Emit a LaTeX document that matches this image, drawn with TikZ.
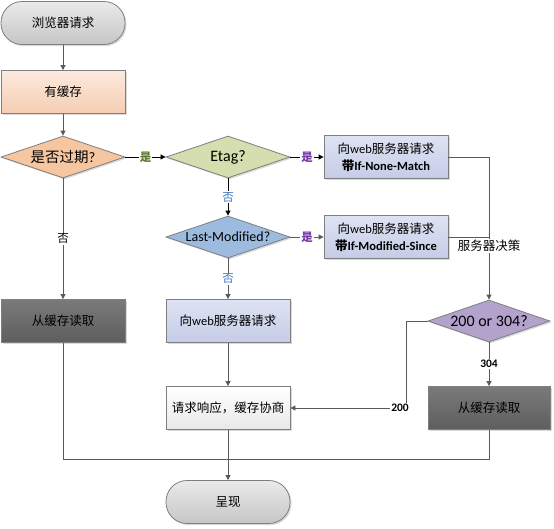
\documentclass[tikz,border=0pt]{standalone}
\usepackage{fontspec}
\setmainfont{Noto Sans CJK SC}
\newfontfamily\lat{Carlito}
\usetikzlibrary{shapes.geometric,arrows.meta,shadows}
\definecolor{linec}{HTML}{5A5A5A}
\definecolor{bordc}{HTML}{7F7F7F}
\definecolor{termtop}{HTML}{EAEAEA}
\definecolor{termbot}{HTML}{C6C6C6}
\definecolor{peachtop}{HTML}{FCEADF}
\definecolor{peachbot}{HTML}{F5CDB1}
\definecolor{orangeD}{HTML}{F6C6A0}
\definecolor{greenD}{HTML}{D4DEAE}
\definecolor{lavtop}{HTML}{DEE3F3}
\definecolor{lavbot}{HTML}{C5CCE6}
\definecolor{blueD}{HTML}{9CBBDF}
\definecolor{purpleD}{HTML}{B3A2CB}
\definecolor{darktop}{HTML}{7A7A7A}
\definecolor{darkbot}{HTML}{5E5E5E}
\definecolor{oliveL}{HTML}{5E7A2E}
\definecolor{blueL}{HTML}{3B78C0}
\definecolor{purpleL}{HTML}{7B3AA8}
\begin{document}
\begin{tikzpicture}[x=1pt,y=-1pt,
  base/.style={draw=bordc, line width=0.8pt, minimum width=124pt, minimum height=43pt,
    inner sep=0pt, align=center, font=\fontsize{12.5}{17}\selectfont,
    drop shadow={shadow xshift=1.5pt,shadow yshift=-1.5pt,opacity=0.3}},
  boxnode/.style={base, rectangle},
  term/.style={base, rectangle, rounded corners=21pt, top color=termtop, bottom color=termbot},
  dia/.style={base, diamond, minimum height=42pt, aspect=3},
  lav/.style={boxnode, top color=lavtop, bottom color=lavbot, font=\fontsize{12.5}{17}\selectfont},
  dark/.style={boxnode, top color=darktop, bottom color=darkbot},
  conn/.style={draw=linec, line width=0.8pt},
  arr/.style={conn, -{Triangle[length=5pt,width=5pt]}},
  lbl/.style={fill=white, inner sep=1pt, font=\fontsize{11.5}{12}\selectfont},
  numl/.style={fill=white, inner sep=1pt, font=\fontsize{11.5}{12}\lat\bfseries}
]
\useasboundingbox (0,0) rectangle (554,528);
% nodes
\node[term] (start) at (63,23) {浏览器请求};
\node[boxnode, top color=peachtop, bottom color=peachbot] (cache) at (63,92) {有缓存};
\node[dia, fill=orangeD, font=\fontsize{14.5}{16}\selectfont] (expired) at (63,157) {是否过期{\lat ?}};
\node[dia, fill=greenD, font=\fontsize{16}{18}\lat] (etag) at (228,157) {Etag?};
\node[lav] (inm) at (386,157) {向{\lat web}服务器请求\\\textbf{带{\lat\bfseries If-None-Match}}};
\node[dia, fill=blueD, font=\fontsize{14}{16}\lat] (lm) at (228,237) {Last-Modified?};
\node[lav] (ims) at (386,237) {向{\lat web}服务器请求\\\textbf{带{\lat\bfseries If-Modified-Since}}};
\node[dark] (readL) at (63,321) {从缓存读取};
\node[lav] (req) at (228,321) {向{\lat web}服务器请求};
\node[dia, fill=purpleD, minimum width=122pt, font=\fontsize{16}{18}\lat] (code) at (489,321) {200 or 304?};
\node[boxnode, top color=white, bottom color=black!9] (resp) at (228,408) {请求响应，缓存协商};
\node[dark, minimum width=122pt] (readR) at (489,408) {从缓存读取};
\node[term] (show) at (228,502) {呈现};
% connectors
\draw[arr] (start) -- (cache);
\draw[arr] (cache) -- (expired);
\draw[arr, draw=black] (expired) -- node[lbl, text=oliveL, font=\fontsize{11.5}{12}\selectfont\bfseries] (lyes1) {是} (etag);
\draw[arr] (expired) -- node[lbl] (lno1) {否} (readL);
\draw[arr, draw=black] (etag) -- node[lbl, text=blueL] (lno2) {否} (lm);
\draw[arr, draw=black] (etag) -- node[lbl, text=purpleL, font=\fontsize{11.5}{12}\selectfont\bfseries] (lyes2) {是} (inm);
\draw[arr] (lm) -- node[lbl, text=purpleL, font=\fontsize{11.5}{12}\selectfont\bfseries] (lyes3) {是} (ims);
\draw[arr] (lm) -- node[lbl, text=blueL] (lno3) {否} (req);
\draw[arr] (req) -- (resp);
\draw[arr] (inm.east) -| (code.north);
\coordinate (dec) at (ims.east -| code.north);
\draw[conn] (ims.east) -- (dec);
\node[lbl, font=\fontsize{12.5}{14}\selectfont] (ldec) at (489,246) {服务器决策};
\coordinate (c200) at (406,321);
\draw[arr] (code.west) -- (c200) |- (resp.east);
\node[numl] (l200) at (400,408) {200};
\draw[arr] (code) -- node[numl] (l304) {304} (readR);
\coordinate (merge) at (228,459);
\draw[conn] (readL.south) |- (merge);
\draw[conn] (readR.south) |- (merge);
\draw[arr] (resp) -- (show);
\end{tikzpicture}
\end{document}
